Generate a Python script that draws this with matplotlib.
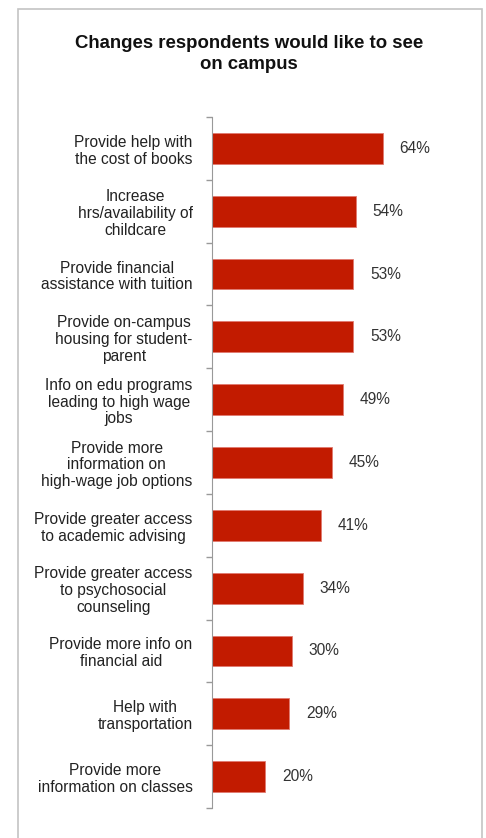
import matplotlib.pyplot as plt
import matplotlib.patches as patches

plt.rcParams['font.family'] = ['Liberation Sans', 'DejaVu Sans']

labels = [
    "Provide help with\nthe cost of books",
    "Increase\nhrs/availability of\nchildcare",
    "Provide financial\nassistance with tuition",
    "Provide on-campus\nhousing for student-\nparent",
    "Info on edu programs\nleading to high wage\njobs",
    "Provide more\ninformation on\nhigh-wage job options",
    "Provide greater access\nto academic advising",
    "Provide greater access\nto psychosocial\ncounseling",
    "Provide more info on\nfinancial aid",
    "Help with\ntransportation",
    "Provide more\ninformation on classes",
]
values = [64, 54, 53, 53, 49, 45, 41, 34, 30, 29, 20]

W, H = 486, 838
fig = plt.figure(figsize=(W / 100, H / 100), dpi=100)

# light grey frame around the whole chart
frame = patches.Rectangle((18 / W, -0.02), 464 / W, 1 - 9 / H + 0.02,
                          transform=fig.transFigure, fill=False,
                          edgecolor='#c4c4c4', linewidth=1.2, clip_on=False)
fig.patches.append(frame)

fig.text(249 / W, 1 - 54 / H, "Changes respondents would like to see\non campus",
         ha='center', va='center', fontsize=13.4, fontweight='bold',
         color='#111111', linespacing=1.25)

ax = fig.add_axes([212 / W, 1 - 808 / H, 260 / W, 691 / H])
pos = list(range(len(values)))
ax.barh(pos, values, height=0.49, color='#c21b00', edgecolor='#e07a70', linewidth=0.6)

for p, v in zip(pos, values):
    ax.text(v + 6.2, p, f"{v}%", va='center', ha='left', fontsize=11.2, color='#333333')

ax.set_xlim(0, 97.4)
ax.set_ylim(len(values) - 0.5, -0.5)
ax.set_yticks(pos)
ax.set_yticklabels(labels, fontsize=11.2, color='#222222', multialignment='center',
                   linespacing=1.15)
ax.tick_params(axis='y', which='major', length=0, pad=14)
ax.set_yticks([p + 0.5 for p in [-1] + pos], minor=True)
ax.tick_params(axis='y', which='minor', length=4, color='#999999', width=1)
ax.set_xticks([])

for s in ['top', 'right', 'bottom']:
    ax.spines[s].set_visible(False)
ax.spines['left'].set_color('#999999')

fig.savefig('out.png', dpi=100)
